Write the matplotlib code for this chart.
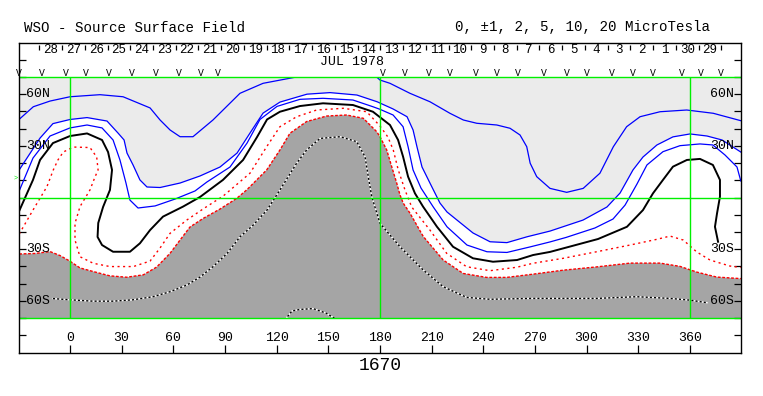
import matplotlib
matplotlib.use('Agg')
import matplotlib.pyplot as plt
from matplotlib.patches import Rectangle
import numpy as np

# ---------------- data (Carrington longitude, latitude in degrees) ----------------
pos5_lon = [-29.5, -21.3, -11.6, 0, 17.4, 30.8, 46.5, 52.3, 58.1, 63.9, 71.4, 83, 98.7, 112.1, 131.6, 150, 178, 180,
            185.8, 197.4, 209, 220.6, 228.4, 236.2, 247.8, 255.5, 261.3, 265.2, 267.2, 271, 278.7, 288.4, 298, 307.7,
            315.5, 323.2, 331, 342.6, 358.1, 373.5, 389.5]
pos5_lat = [45.4, 52.7, 56, 58.5, 59.7, 58.5, 52, 45, 39.2, 35.3, 35.3, 45, 60.5, 66.3, 70, 70, 70, 68.2,
            66.3, 60.5, 55.6, 48.9, 45, 43.1, 42.1, 40.2, 36.3, 29.5, 19.9, 12.1, 5.3, 3, 5.3, 14.1,
            29.5, 41.1, 46.9, 49.8, 50.8, 48.9, 44.6]

pos2_lon = [-29.5, -17.4, -9.9, 0, 9.9, 21.5, 27.9, 31.4, 33.1, 36.6, 40.6, 44.7, 52.3, 63.9, 75.5, 87.1, 97, 104.5,
            112.1, 121.9, 137.6, 151, 166.6, 178.3, 187.6, 195.7, 199.2, 201.5, 204.4, 209, 214.8, 218.9, 224.7, 234,
            243.9, 253.7, 265.4, 278.7, 297.9, 311.8, 319.4, 326.9, 332.7, 340.8, 350.1, 360, 369.9, 378.6, 389.5]
pos2_lat = [16, 34.5, 42.9, 45.3, 46.4, 44.4, 37.4, 33.4, 25.8, 18.9, 10.2, 6.1, 5.8, 8.4, 12.5, 17.7, 25.8, 37.4,
            49, 55.4, 60, 60.9, 59.5, 55.6, 51.4, 46.9, 39.2, 29.3, 17.7, 8.4, -3.2, -8.4, -13.1, -20.6,
            -25.7, -26.2, -22.8, -19.5, -13.1, -5.5, 2.6, 16, 23.5, 30.5, 35.2, 36.9, 35.7, 33.4, 26.4]

pos1_lon = [-29.5, -21.5, -11.6, 0, 9.9, 18.6, 25, 29, 32.5, 34.8, 39.5, 49.4, 61, 72.6, 79.5, 92.9, 102.8, 110.3,
            120.2, 133.5, 146.9, 164.3, 175.9, 180, 187.6, 193.4, 196.3, 199.2, 203.8, 210.8, 218.9, 230.5, 242.1,
            253.7, 267.1, 278.7, 288, 304.8, 315.3, 322.3, 329.2, 335, 344.3, 354.2, 365.8, 373.3, 380.3, 387.3, 389.5]
pos1_lat = [3.8, 22.9, 35.7, 40.4, 42.1, 40.4, 33.4, 21.8, 8.4, -1.5, -6.1, -4.9, -0.9, 3.8, 9, 17.7, 31.6, 45.3,
            52.9, 57, 57.6, 56.6, 52.7, 51.2, 47.9, 41.1, 29.5, 16, 5.5, -5.3, -17, -27.6, -31.5,
            -31.9, -28.7, -25.8, -23.2, -17.7, -12.5, -4.4, 7.8, 18.9, 26.6, 30.1, 31.1, 30.5, 24.7, 17.7, 9.6]

zero_lon = [-29.5, -21.5, -17.4, -9.9, 0, 9.9, 18.6, 22.1, 24.4, 23.2, 19.2, 16.4, 16, 18.6, 25, 34.8, 40.6, 46.5,
            54, 65.6, 75.5, 88.8, 100.5, 108.6, 114.4, 121.9, 133.5, 146.9, 164.3, 175.9, 180, 185.8, 190.5, 193.4,
            196.3, 200.3, 205, 213.1, 222.4, 234, 245.6, 259.6, 268.9, 278.7, 288.4, 306.6, 323.4, 332.7, 338.5,
            344.3, 350.1, 358.2, 365.8, 373.3, 377.4, 377.4, 375.7, 374.5, 376.3]
zero_lat = [-7.8, 10.2, 21.8, 31.6, 35.7, 37.2, 33.4, 26.4, 16, 4.4, -5.5, -14.8, -22.9, -27.6, -31.5, -31.5, -26.6,
            -18.9, -11.1, -5.3, 0.3, 10.2, 21.8, 35.1, 45.3, 49.8, 53.1, 54.7, 53.7, 49.8, 46.6, 42.1, 33.4, 23.7,
            12.1, 2.4, -5.3, -17, -28.6, -35.3, -37.3, -36.3, -33.4, -31.6, -29, -24.1, -17, -7.3, 2.4,
            10.2, 17.9, 21.8, 22.4, 18.9, 10.2, 0.5, -9.2, -17, -25.7]

neg1_lon = [-29.5, -21.5, -13.4, -9.7, -7.0, -3.9, 1.9, 11.6, 15.5, 16.3, 14.5, 11.6, 5.8, 2.9, 2.9, 5.8, 13.5, 23.2,
            36.8, 46.5, 52.3, 58.1, 67.8, 77.2, 89.0, 104.5, 114.2, 121.9, 131.6, 143.2, 158.7, 172.3, 180.0, 184.6,
            187.7, 190.6, 194.5, 198.4, 201.3, 209.0, 218.7, 230.3, 243.9, 259.4, 268.8, 286.4, 305.8, 325.2, 340.7,
            348.4, 356.1, 363.9, 371.6, 383.2, 389.5]
neg1_lat = [-21.2, -7.3, 6.3, 16.0, 21.8, 26.4, 29.3, 29.0, 23.5, 16.0, 11.9, 4.4, -5.3, -15.0, -24.7, -34.4, -38.2,
            -40.1, -40.1, -36.9, -29.3, -20.8, -13.1, -6.7, 0.9, 14.1, 29.5, 41.1, 46.9, 50.8, 51.8, 49.8, 41.5, 35.1,
            27.6, 16.0, 4.4, -5.5, -9.2, -18.9, -32.4, -40.2, -42.5, -40.5, -38.2, -35.3, -31.5, -27.6, -24.3,
            -22.4, -24.7, -31.6, -36.3, -39.8, -40.6]

neg2_lon = [-29.5, -20.3, -11.6, -5.8, 0, 5.8, 13.5, 23.2, 32.9, 42.6, 50.3, 58.1, 63.9, 69.7, 77.4, 87.1, 96.8, 102.6,
            114.2, 121.9, 127.7, 137.4, 149, 160.6, 170.3, 178, 180, 183.9, 186.8, 189.7, 191.6, 193.5, 197.4, 205.1,
            216.7, 228.3, 241.9, 253.5, 269, 286.4, 305.8, 325.2, 342.6, 354.2, 363.9, 375.5, 389.5]
neg2_lat = [-32.8, -32.5, -31.4, -33.7, -37, -40.9, -43, -45.5, -46.3, -44.9, -40.4, -32.4, -24.7, -17.1, -12.1, -6.7,
            -0.5, 4.4, 16, 27.6, 37.3, 44.1, 47.3, 47.9, 46, 38.3, 35.3, 27.6, 17.9, 8.4, 1.5, -3.3, -9.1, -22.6,
            -36.3, -44.1, -46.4, -46.4, -44.5, -42.2, -40.3, -38.1, -38.1, -40, -43.3, -46.2, -47.1]

neg5_lon = [-9.9, 0, 13.4, 24.9, 36.6, 48.2, 58.1, 67.9, 75.5, 83, 91.2, 98.7, 106.3, 114.4, 121.9, 131.6, 137.4,
            145.2, 156.8, 166.5, 171.3, 173.2, 175.2, 177.6, 180, 191.6, 205.1, 216.7, 230.3, 243.9, 267.1, 286.3,
            306, 329, 348.4, 360, 369.9]
neg5_lat = [-58.7, -59.4, -60.2, -60.2, -59.4, -57.6, -54.7, -50.8, -46.2, -40.2, -32.5, -22.8, -16.1, -7.3, 4.4,
            19.9, 27.6, 34.3, 35.3, 32.4, 23.7, 12.1, 0.5, -7.3, -15, -28.6, -42.1, -51.8, -58, -59.1, -58.6, -58.6,
            -58.6, -57.6, -58.6, -59.6, -61.1]

neg10_lon = [124.8, 128.9, 133.5, 141.1, 148.6, 155]
neg10_lat = [-71, -65.9, -65, -64.5, -67.1, -71]

carr_days = [28, 27, 26, 25, 24, 23, 22, 21, 20, 19, 18, 17, 16, 15, 14, 13, 12, 11, 10,
             9, 8, 7, 6, 5, 4, 3, 2, 1, 30, 29]
first_day_lon = -11.2
deg_per_day = 13.2

obs_lons = [-29.4, -16.4, -2.3, 9.1, 22.5, 35.8, 49.9, 63.5, 75.8, 86.1, 181.7, 194.5, 208.6, 220.7, 235.5,
            248.1, 260.3, 275.2, 288.6, 300, 314.7, 326.7, 338.7, 355.2, 366.4, 378]

lon_ticks = list(range(0, 361, 30))
lat_labels = {60: '60N', 30: '30N', -30: '30S', -60: '60S'}
rotation = '1670'
month_label = 'JUL 1978'
title = 'WSO - Source Surface Field'
levels_text = '0, \u00b11, 2, 5, 10, 20 MicroTesla'

# ---------------- drawing ----------------
W, H = 763, 396
fig = plt.figure(figsize=(W / 100, H / 100), dpi=100)
xl, xr = 19.2, 740.8
yt, yb = 42.5, 352.5
ax = fig.add_axes([xl / W, 1 - yb / H, (xr - xl) / W, (yb - yt) / H])
XMIN, XMAX = -29.5, 389.5
ax.set_xlim(XMIN, XMAX)
ax.set_ylim(-90, 90)

mono = 'Liberation Mono'
LIGHT = '#ebebeb'
DARK = '#a5a5a5'
GREEN = '#00f000'

clip = Rectangle((XMIN, -70), XMAX - XMIN, 140, transform=ax.transData, facecolor='none', edgecolor='none')
ax.add_patch(clip)

# light gray: field > +2
poly_x = list(pos2_lon) + [XMAX, XMIN]
poly_y = list(pos2_lat) + [75, 75]
p = ax.fill(poly_x, poly_y, color=LIGHT, lw=0, zorder=1)[0]
p.set_clip_path(clip)
# dark gray: field < -2
poly_x = list(neg2_lon) + [XMAX, XMIN]
poly_y = list(neg2_lat) + [-75, -75]
p = ax.fill(poly_x, poly_y, color=DARK, lw=0, zorder=1)[0]
p.set_clip_path(clip)

lines = []
lines += ax.plot(pos5_lon, pos5_lat, color='#0000ff', lw=0.9, zorder=3)
lines += ax.plot(pos2_lon, pos2_lat, color='#0000ff', lw=0.9, zorder=3)
lines += ax.plot(pos1_lon, pos1_lat, color='#0000ff', lw=0.9, zorder=3)
lines += ax.plot(zero_lon, zero_lat, color='black', lw=1.4, zorder=3)
lines += ax.plot(neg1_lon, neg1_lat, color='#ff0000', lw=1.0, ls=(0, (1.5, 2.5)), zorder=3)
lines += ax.plot(neg2_lon, neg2_lat, color='#ff0000', lw=1.0, ls=(0, (2, 1.2)), zorder=3)
for lo, la in [(neg5_lon, neg5_lat), (neg10_lon, neg10_lat)]:
    lines += ax.plot(lo, la, color='white', lw=1.0, zorder=3)
    lines += ax.plot(lo, la, color='black', lw=1.0, ls=(0, (1.5, 1.5)), zorder=3)
for ln in lines:
    ln.set_clip_path(clip)
    ln.set_solid_joinstyle('round')
    ln.set_dash_joinstyle('round')

# green grid
for la in (-70, 0, 70):
    ax.plot([XMIN, XMAX], [la, la], color=GREEN, lw=1.0, zorder=4, solid_capstyle='butt')
for lo in (0, 180, 360):
    ax.plot([lo, lo], [-70, 70], color=GREEN, lw=1.0, zorder=4, solid_capstyle='butt')

# ticks
ax.set_xticks(lon_ticks)
ax.set_yticks(list(range(-80, 81, 10)))
ax.tick_params(axis='x', direction='in', length=5.8, width=0.9, labelbottom=False, bottom=True, top=False)
ax.tick_params(axis='y', direction='in', length=5.0, width=0.9, labelleft=False, left=True, right=True)
for s in ax.spines.values():
    s.set_linewidth(1.0)
    s.set_zorder(6)

# longitude labels
for lo in lon_ticks:
    ax.text(lo, -81.6, str(lo), ha='center', va='center', family=mono, fontsize=9.5, zorder=5)

# latitude labels
for la, s in lat_labels.items():
    ax.text(-25.5, la, s, ha='left', va='center', family=mono, fontsize=9.5, zorder=5)
    ax.text(385.6, la, s, ha='right', va='center', family=mono, fontsize=9.5, zorder=5)

# Carrington day labels
day_lons = first_day_lon + deg_per_day * np.arange(len(carr_days))
bar_lons = list(day_lons - deg_per_day / 2) + [day_lons[-1] + deg_per_day / 2]
ax.vlines(bar_lons, 85.4, 88.3, color='black', lw=0.9, zorder=5)
for lo, d in zip(day_lons, carr_days):
    ax.text(lo, 85.6, str(d), ha='center', va='center', family=mono, fontsize=9, zorder=5)
ax.text(164, 78.6, month_label, ha='center', va='center', family=mono, fontsize=9.5, zorder=5)

# observation marks
for lo in obs_lons:
    ax.text(lo, 70.4, 'V', ha='center', va='baseline', family=mono, fontsize=7, zorder=5)

ax.text(-31.5, 11, '>', ha='center', va='center', color=GREEN, family=mono, fontsize=5, clip_on=False)

ax.text(180, -97.8, rotation, ha='center', va='center', family=mono, fontsize=13, clip_on=False)
fig.text(24 / W, 1 - 27.5 / H, title, ha='left', va='center', family=mono, fontsize=10.2)
fig.text(710 / W, 1 - 27.5 / H, levels_text, ha='right', va='center', family=mono, fontsize=10.2)

fig.savefig('out.png', dpi=100, facecolor='white')
